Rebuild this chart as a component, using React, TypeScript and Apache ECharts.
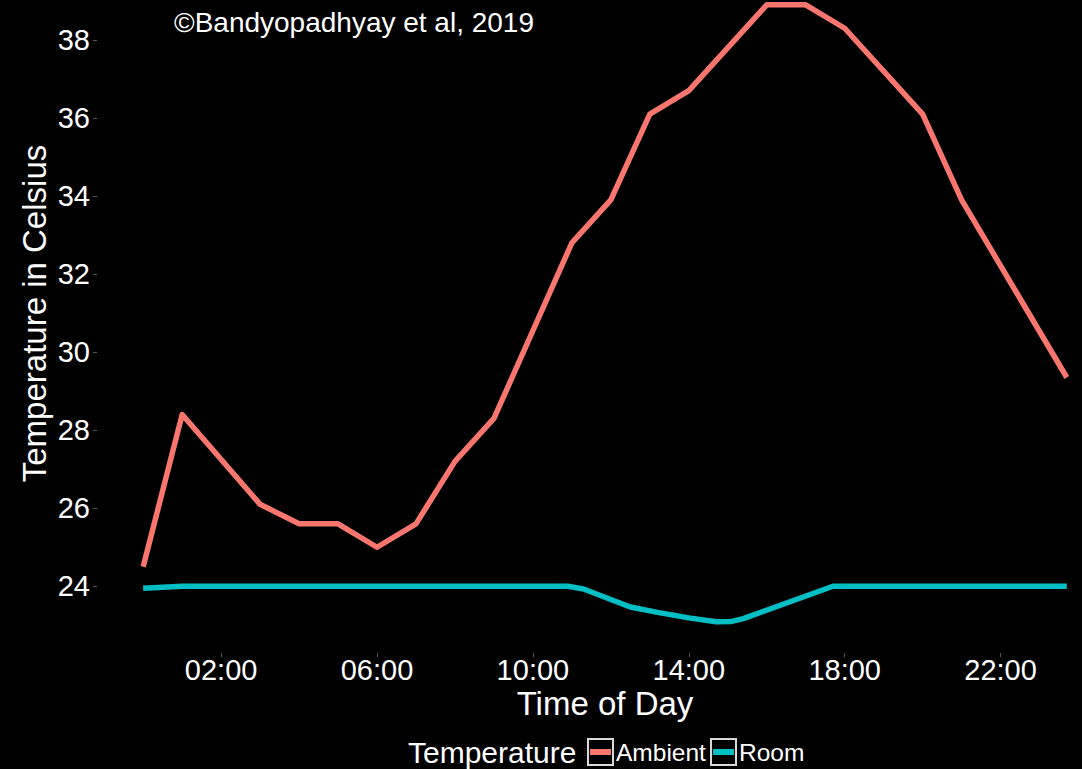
import React, { useEffect, useRef } from "react";
import * as echarts from "echarts";

// Hourly readings (hour of day, °C)
const ambientHours = [0, 1, 3, 4, 5, 6, 7, 8, 9, 11, 12, 13, 14, 16, 17, 18, 20, 21, 23.7];
const ambientTemps = [24.5, 28.4, 26.1, 25.6, 25.6, 25.0, 25.6, 27.2, 28.3, 32.8, 33.9, 36.1, 36.7, 38.9, 38.9, 38.3, 36.1, 33.9, 29.35];

const roomHours = [0, 1, 10.9, 11.3, 12.5, 13.2, 14.0, 14.7, 15.1, 15.4, 17.7, 23.7];
const roomTemps = [23.95, 24.0, 24.0, 23.93, 23.47, 23.33, 23.19, 23.09, 23.1, 23.17, 24.0, 24.0];

const xTickHours = [2, 6, 10, 14, 18, 22];
const yTickValues = [24, 26, 28, 30, 32, 34, 36, 38];

const seriesNames = ["Ambient", "Room"];
const seriesColors = ["#F8766D", "#00BFC4"];

const FONT = "'Liberation Sans', Arial, Helvetica, sans-serif";

const pairs = (xs: number[], ys: number[]) => xs.map((x, i) => [x, ys[i]]);
const hourLabel = (v: number) => `${String(v).padStart(2, "0")}:00`;

export default function App() {
  const ref = useRef<HTMLDivElement>(null);

  useEffect(() => {
    document.body.style.margin = "0";
    document.body.style.background = "#000";
    const chart = echarts.init(ref.current!, null, { renderer: "svg" });

    const legendY = 752;
    const legendItems = [
      { name: seriesNames[0], color: seriesColors[0], box: 588, text: 616 },
      { name: seriesNames[1], color: seriesColors[1], box: 711, text: 739 },
    ];

    chart.setOption({
      animation: false,
      backgroundColor: "#000",
      grid: {
        left: 97,
        top: -26,
        width: 1016,
        height: 679,
        containLabel: false,
        outerBoundsMode: "none",
      },
      xAxis: {
        type: "value",
        min: -1.185,
        max: 24.885,
        name: "Time of Day",
        nameLocation: "middle",
        nameGap: 35,
        nameMoveOverlap: false,
        nameTextStyle: { color: "#fff", fontSize: 33, lineHeight: 30, fontFamily: FONT },
        axisLine: { show: false, onZero: false },
        splitLine: { show: false },
        axisTick: {
          show: true,
          customValues: xTickHours,
          length: 4,
          lineStyle: { color: "#555", width: 1 },
        },
        axisLabel: {
          customValues: xTickHours,
          formatter: (v: number) => hourLabel(v),
          color: "#fff",
          fontSize: 29,
          lineHeight: 26,
          fontFamily: FONT,
          margin: 4,
        },
      },
      yAxis: {
        type: "value",
        min: 22.29,
        max: 39.69,
        name: "Temperature in Celsius",
        nameLocation: "middle",
        nameGap: 46,
        nameMoveOverlap: false,
        nameTextStyle: { color: "#fff", fontSize: 33, fontFamily: FONT },
        axisLine: { show: false, onZero: false },
        splitLine: { show: false },
        axisTick: {
          show: true,
          customValues: yTickValues,
          length: 4,
          lineStyle: { color: "#555", width: 1 },
        },
        axisLabel: {
          customValues: yTickValues,
          color: "#fff",
          fontSize: 29,
          fontFamily: FONT,
          margin: 7,
        },
      },
      series: [
        {
          name: seriesNames[0],
          type: "line",
          data: pairs(ambientHours, ambientTemps),
          showSymbol: false,
          lineStyle: { color: seriesColors[0], width: 5.5, join: "round", cap: "butt" },
          itemStyle: { color: seriesColors[0] },
        },
        {
          name: seriesNames[1],
          type: "line",
          data: pairs(roomHours, roomTemps),
          showSymbol: false,
          lineStyle: { color: seriesColors[1], width: 5.5, join: "round", cap: "butt" },
          itemStyle: { color: seriesColors[1] },
        },
      ],
      graphic: [
        {
          type: "text",
          left: 174,
          top: 8,
          style: {
            text: "©Bandyopadhyay et al, 2019",
            fill: "#fff",
            fontSize: 28,
            fontFamily: FONT,
          },
        },
        {
          type: "text",
          x: 408,
          y: legendY,
          style: {
            text: "Temperature",
            fill: "#fff",
            fontSize: 30,
            fontFamily: FONT,
            verticalAlign: "middle",
          },
        },
        ...legendItems.flatMap((it) => [
          {
            type: "rect",
            shape: { x: it.box, y: legendY - 13, width: 25, height: 26 },
            style: { fill: "#000", stroke: "#d9d9d9", lineWidth: 2 },
          },
          {
            type: "line",
            shape: { x1: it.box + 2, y1: legendY, x2: it.box + 23, y2: legendY },
            style: { stroke: it.color, lineWidth: 6 },
          },
          {
            type: "text",
            x: it.text,
            y: legendY,
            style: {
              text: it.name,
              fill: "#fff",
              fontSize: 24.5,
              fontFamily: FONT,
              verticalAlign: "middle",
            },
          },
        ]),
      ],
    });

    return () => chart.dispose();
  }, []);

  return (
    <div
      ref={ref}
      style={{ position: "fixed", left: 0, top: 0, width: 1082, height: 769, background: "#000" }}
    />
  );
}
